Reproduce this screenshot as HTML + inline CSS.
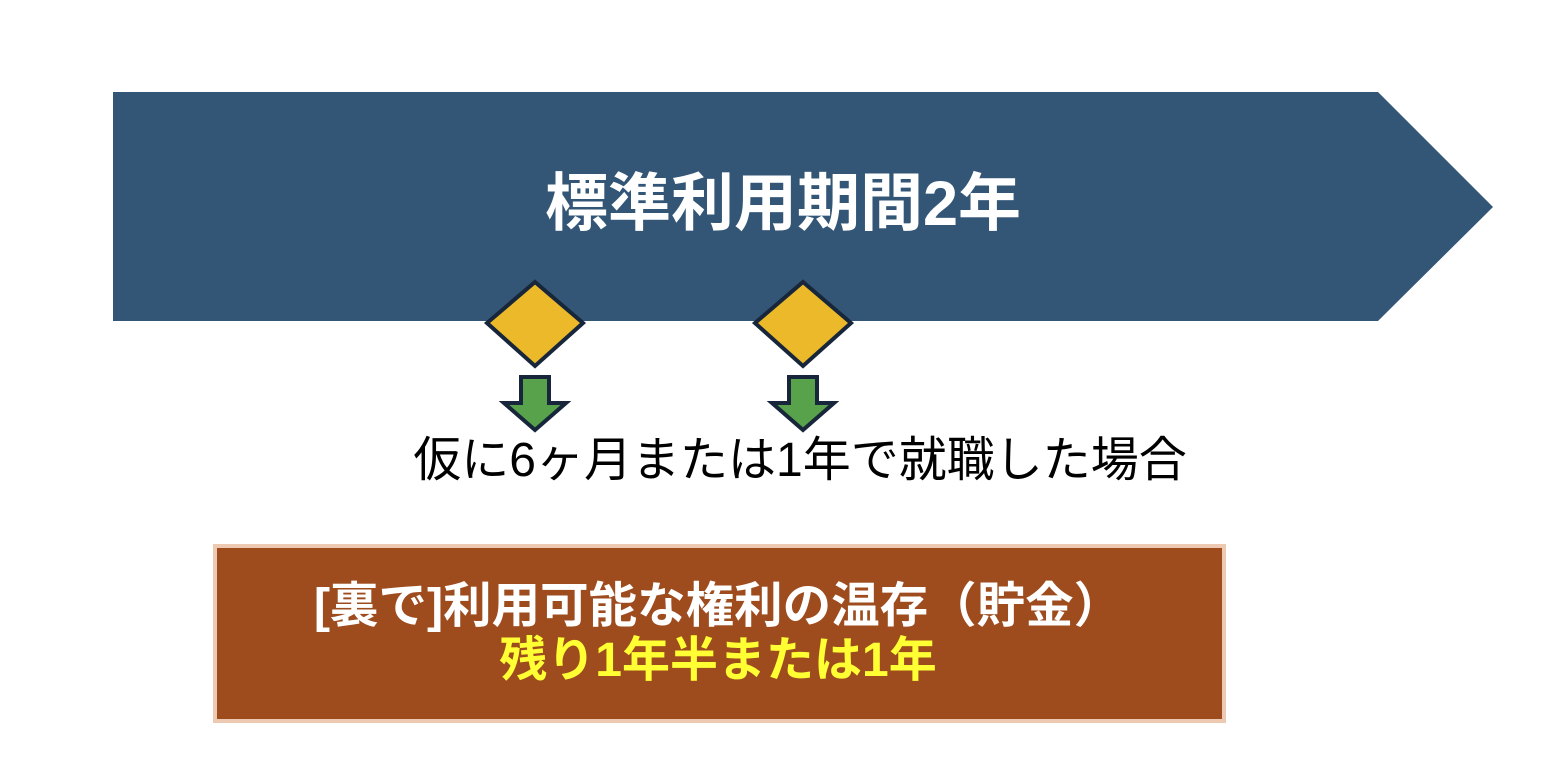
<!DOCTYPE html>
<html><head><meta charset="utf-8"><style>
body{margin:0;width:1546px;height:778px;background:#fff;overflow:hidden;position:relative;font-family:"Liberation Sans","Noto Sans CJK JP",sans-serif}
.t{position:absolute;white-space:nowrap;text-align:center}
</style></head><body>
<svg width="1546" height="778" style="position:absolute;left:0;top:0">
<polygon points="113,92 1378,92 1493,207 1378,321 113,321" fill="#335677"/>
<polygon points="535,282 583,323 535,366 487,323" fill="#ebb929" stroke="#17263a" stroke-width="4"/>
<polygon points="803,282 851,323 803,366 755,323" fill="#ebb929" stroke="#17263a" stroke-width="4"/>
<polygon points="521,377 549,377 549,403 566,403 535,430 504,403 521,403" fill="#57a24b" stroke="#17263a" stroke-width="4"/>
<polygon points="789,377 817,377 817,403 834,403 803,430 772,403 789,403" fill="#57a24b" stroke="#17263a" stroke-width="4"/>
<rect x="215" y="546" width="1009" height="175" fill="#9e4b1e" stroke="#ecc9b0" stroke-width="4"/>
</svg>
<div class="t" style="left:283px;width:1000px;top:166px;font-size:63px;font-weight:bold;color:#fff;line-height:76px">標準利用期間2年</div>
<div class="t" style="left:300px;width:1000px;top:431px;font-size:48px;color:#000;line-height:60px">仮に6ヶ月または1年で就職した場合</div>
<div class="t" style="left:218px;width:1000px;top:578px;font-size:48.5px;font-weight:bold;color:#fff;line-height:56px">[裏で]利用可能な権利の温存（貯金）</div>
<div class="t" style="left:218px;width:1000px;top:633px;font-size:48px;font-weight:bold;color:#ffff33;line-height:56px">残り1年半または1年</div>
</body></html>
